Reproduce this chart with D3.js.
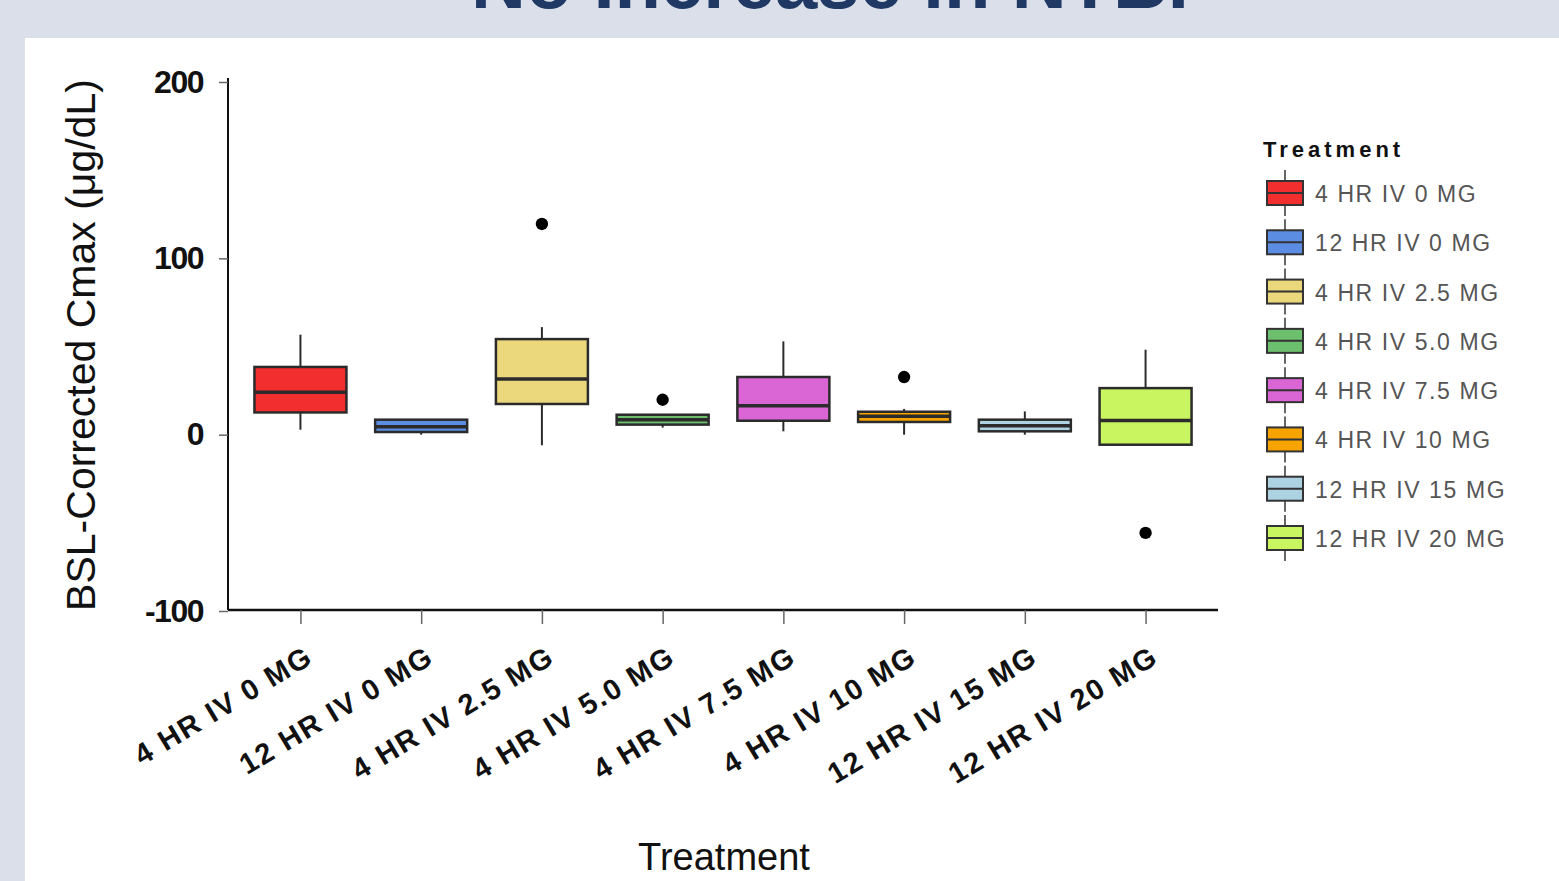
<!DOCTYPE html>
<html>
<head>
<meta charset="utf-8">
<script src="https://cdn.jsdelivr.net/npm/d3@7"></script>
<style>
  html, body { margin: 0; padding: 0; background: #dadfe9; overflow: hidden; }
  svg { display: block; font-family: "Liberation Sans", Arial, sans-serif; }
</style>
</head>
<body>
<div id="chart"></div>
<script>
const treatments = ["4 HR IV 0 MG", "12 HR IV 0 MG", "4 HR IV 2.5 MG", "4 HR IV 5.0 MG",
    "4 HR IV 7.5 MG", "4 HR IV 10 MG", "12 HR IV 15 MG", "12 HR IV 20 MG"];
const colors = ["#f22e2e", "#5b8ee3", "#ebd77c", "#6cbf6c", "#d966d4", "#f7a400", "#add3e3", "#c8f560"];
const whiskerLow = [2.8, 0, -6, 4, 1.9, 0, 0, -5.7];
const q1 = [12.6, 1.5, 17.4, 5.7, 7.9, 7.2, 1.9, -5.7];
const median = [24, 4.5, 31.6, 8.5, 16.4, 10.4, 5.1, 8.1];
const q3 = [38.4, 8.5, 54.2, 11.3, 32.7, 13, 8.5, 26.4];
const whiskerHigh = [56.7, 8.5, 61, 11.3, 52.9, 14.6, 13.2, 48.2];
const outliers = [[], [], [119.5], [19.8], [], [32.7], [], [-55.7]];
const yTicks = [-100, 0, 100, 200];

const W = 1559, H = 881;
const stroke = "#2b2b2b";

const svg = d3.select("#chart").append("svg").attr("width", W).attr("height", H);

// slide background + title (cut off at the top, as on the slide)
svg.append("rect").attr("width", W).attr("height", H).attr("fill", "#dadfe9");
svg.append("text").attr("x", 830).attr("y", 8).attr("text-anchor", "middle")
    .attr("font-size", 76).attr("font-weight", "bold").attr("fill", "#1f3864")
    .text("No Increase in NTBI");
svg.append("rect").attr("x", 25).attr("y", 38).attr("width", W - 25).attr("height", H - 38).attr("fill", "#fff");

const x = d3.scalePoint().domain(treatments).range([228, 1218]).padding(0.6);
const y = d3.scaleLinear().domain([-100, 200]).range([611, 82]);
const boxW = 92;

// axes
const yAxis = svg.append("g").attr("transform", "translate(228,0)")
    .call(d3.axisLeft(y).tickValues(yTicks).tickFormat(d => String(d)).tickSize(9).tickPadding(16));
yAxis.select(".domain").attr("stroke", "#111").attr("stroke-width", 2).attr("d", "M0,78V610");
yAxis.selectAll(".tick line").attr("stroke", "#666").attr("stroke-width", 1.5);
yAxis.selectAll(".tick text").attr("font-size", 32).attr("font-weight", "bold").attr("fill", "#111")
    .attr("letter-spacing", -1.5).attr("font-family", "'Liberation Sans', Arial, sans-serif");

const xAxis = svg.append("g").attr("transform", "translate(0,610)")
    .call(d3.axisBottom(x).tickSize(14).tickPadding(0));
xAxis.select(".domain").attr("stroke", "#111").attr("stroke-width", 2.5).attr("d", "M228,0H1218");
xAxis.selectAll(".tick line").attr("stroke", "#666").attr("stroke-width", 1.5);
xAxis.selectAll(".tick text").attr("font-size", 29).attr("font-weight", "bold").attr("fill", "#111")
    .attr("font-family", "'Liberation Sans', Arial, sans-serif").attr("letter-spacing", 1.8)
    .attr("text-anchor", "end").attr("dy", 0).attr("y", 0)
    .attr("transform", "translate(14,52) rotate(-31)");

svg.append("text").attr("transform", "translate(95,345) rotate(-90)").attr("text-anchor", "middle")
    .attr("font-size", 41).attr("fill", "#111").text("BSL-Corrected Cmax (μg/dL)");
svg.append("text").attr("x", 724).attr("y", 870).attr("text-anchor", "middle")
    .attr("font-size", 38).attr("fill", "#111").text("Treatment");

// boxes
const boxes = svg.append("g").selectAll("g").data(treatments).join("g")
    .attr("transform", d => `translate(${x(d)},0)`);
boxes.append("line").attr("y1", (d, i) => y(whiskerHigh[i])).attr("y2", (d, i) => y(q3[i]))
    .attr("stroke", stroke).attr("stroke-width", 2);
boxes.append("line").attr("y1", (d, i) => y(q1[i])).attr("y2", (d, i) => y(whiskerLow[i]))
    .attr("stroke", stroke).attr("stroke-width", 2);
boxes.append("rect").attr("x", -boxW / 2).attr("width", boxW)
    .attr("y", (d, i) => y(q3[i])).attr("height", (d, i) => y(q1[i]) - y(q3[i]))
    .attr("fill", (d, i) => colors[i]).attr("stroke", stroke).attr("stroke-width", 2.5);
boxes.append("line").attr("x1", -boxW / 2).attr("x2", boxW / 2)
    .attr("y1", (d, i) => y(median[i])).attr("y2", (d, i) => y(median[i]))
    .attr("stroke", stroke).attr("stroke-width", 3.5);
boxes.selectAll("path.outlier").data((d, i) => outliers[i]).join("path").attr("class", "outlier")
    .attr("transform", v => `translate(0,${y(v)})`)
    .attr("d", d3.symbol(d3.symbolCircle, 120)).attr("fill", "#000");

// legend
const legend = svg.append("g").attr("transform", "translate(1263,0)");
legend.append("text").attr("x", 0).attr("y", 157).attr("font-size", 22).attr("font-weight", "bold")
    .attr("letter-spacing", 4).attr("fill", "#111").text("Treatment");
const keyY = d3.scalePoint().domain(treatments).range([193, 538]);
const keys = legend.selectAll("g.key").data(treatments).join("g").attr("class", "key")
    .attr("transform", d => `translate(0,${keyY(d)})`);
keys.append("line").attr("x1", 22).attr("x2", 22).attr("y1", -23).attr("y2", 23)
    .attr("stroke", "#333").attr("stroke-width", 1.5);
keys.append("rect").attr("x", 4).attr("y", -12).attr("width", 36).attr("height", 24)
    .attr("fill", (d, i) => colors[i]).attr("stroke", "#333").attr("stroke-width", 2);
keys.append("line").attr("x1", 4).attr("x2", 40).attr("y1", 0).attr("y2", 0)
    .attr("stroke", "#333").attr("stroke-width", 2);
keys.append("text").attr("x", 52).attr("y", 9).attr("font-size", 23).attr("letter-spacing", 1.6)
    .attr("fill", "#555").text(d => d);
</script>
</body>
</html>
